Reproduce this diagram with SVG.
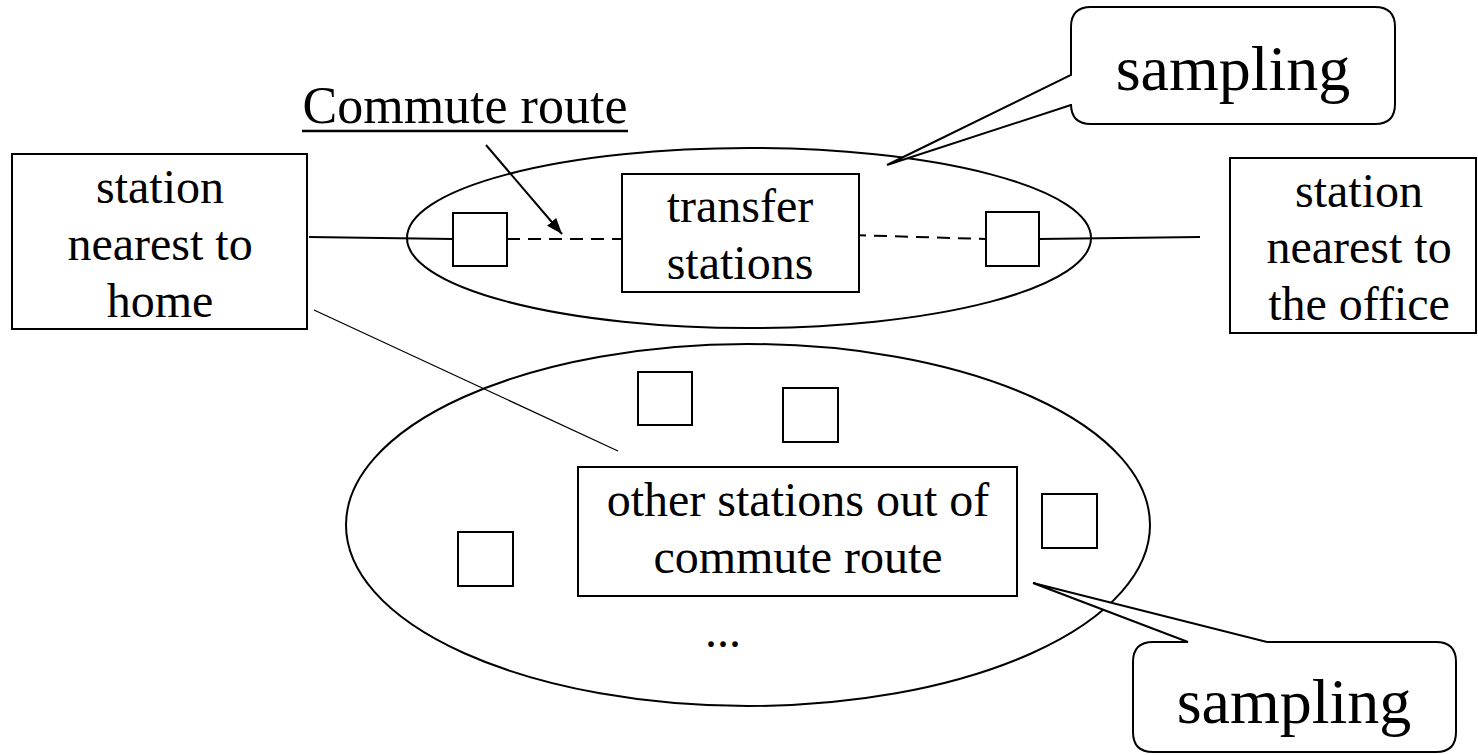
<svg xmlns="http://www.w3.org/2000/svg" width="1478" height="755" viewBox="0 0 1478 755">
  <style>
    .box { fill: #fff; stroke: #000; stroke-width: 2; }
    .sq { fill: #fff; stroke: #000; stroke-width: 2; }
    .ell { fill: none; stroke: #000; stroke-width: 2; }
    .ln { fill: none; stroke: #000; stroke-width: 2; }
    .thin { fill: none; stroke: #000; stroke-width: 1.3; }
    .dash { fill: none; stroke: #000; stroke-width: 2; stroke-dasharray: 13 8; }
    .call { fill: #fff; stroke: #000; stroke-width: 2; stroke-linejoin: miter; }
    .lbl { fill: #000; text-anchor: middle; }
    .t48 { font-size: 48px; }
    .t64 { font-size: 64px; }
  </style>
  <defs>
    <marker id="arrowhead" viewBox="0 0 10 10" refX="10" refY="5" markerWidth="16" markerHeight="12" markerUnits="userSpaceOnUse" orient="auto" preserveAspectRatio="none">
      <path d="M0,0 L10,5 L0,10 z" fill="#000"/>
    </marker>
  </defs>

  <!-- grouping ellipses -->
  <g id="route-ellipse">
    <ellipse class="ell" cx="749" cy="238" rx="342" ry="90"/>
  </g>
  <g id="other-ellipse">
    <ellipse class="ell" cx="748" cy="525" rx="402" ry="181"/>
  </g>

  <!-- connectors -->
  <g id="connectors">
    <line class="ln" x1="309" y1="237" x2="453" y2="239"/>
    <line class="dash" x1="507" y1="239" x2="622" y2="239"/>
    <line class="dash" x1="853" y1="235" x2="986" y2="239"/>
    <line class="ln" x1="1039" y1="239" x2="1200" y2="237"/>
    <line class="thin" x1="314" y1="310" x2="618" y2="451"/>
    <line class="ln" x1="486" y1="145" x2="562" y2="234" marker-end="url(#arrowhead)"/>
  </g>

  <g font-family="'Liberation Serif', 'DejaVu Serif', serif">
    <g id="home-station">
      <rect class="box" x="12" y="154" width="295" height="175"/>
      <text class="lbl t48" x="160" y="203">station</text>
      <text class="lbl t48" x="160" y="260">nearest to</text>
      <text class="lbl t48" x="160" y="317">home</text>
    </g>

    <g id="office-station">
      <rect class="box" x="1230" y="158" width="246" height="175"/>
      <text class="lbl t48" x="1359" y="207">station</text>
      <text class="lbl t48" x="1359" y="263">nearest to</text>
      <text class="lbl t48" x="1359" y="320">the office</text>
    </g>

    <g id="route-stop-left">
      <rect class="sq" x="453" y="213" width="54" height="53"/>
    </g>
    <g id="route-stop-right">
      <rect class="sq" x="986" y="212" width="53" height="54"/>
    </g>

    <g id="transfer-stations">
      <rect class="box" x="622" y="174" width="237" height="118"/>
      <text class="lbl t48" x="740" y="222">transfer</text>
      <text class="lbl t48" x="740" y="279">stations</text>
    </g>

    <g id="commute-route-label">
      <text class="lbl" x="465" y="123" font-size="52">Commute route</text>
      <line x1="302" y1="131" x2="628" y2="131" stroke="#000" stroke-width="2.5"/>
    </g>

    <g id="other-stop-1">
      <rect class="sq" x="638" y="372" width="54" height="53"/>
    </g>
    <g id="other-stop-2">
      <rect class="sq" x="783" y="388" width="55" height="54"/>
    </g>
    <g id="other-stop-3">
      <rect class="sq" x="458" y="532" width="55" height="54"/>
    </g>
    <g id="other-stop-4">
      <rect class="sq" x="1042" y="494" width="55" height="54"/>
    </g>

    <g id="other-stations">
      <rect class="box" x="578" y="467" width="439" height="129"/>
      <text class="lbl t48" x="798" y="516">other stations out of</text>
      <text class="lbl t48" x="798" y="573">commute route</text>
    </g>

    <g id="ellipsis">
      <text class="lbl t48" x="723" y="647">...</text>
    </g>

    <g id="sampling-top">
      <path class="call" d="M1091,7 H1375 Q1395,7 1395,27 V104 Q1395,124 1375,124 H1091 Q1071,124 1071,104 V105 L887,165 L1071,75 V27 Q1071,7 1091,7 Z"/>
      <text class="lbl t64" x="1233" y="90">sampling</text>
    </g>

    <g id="sampling-bottom">
      <path class="call" d="M1153,642 H1188 L1033,583 L1267,642 H1436 Q1456,642 1456,662 V732 Q1456,752 1436,752 H1153 Q1133,752 1133,732 V662 Q1133,642 1153,642 Z"/>
      <text class="lbl t64" x="1294" y="723">sampling</text>
    </g>
  </g>
</svg>
